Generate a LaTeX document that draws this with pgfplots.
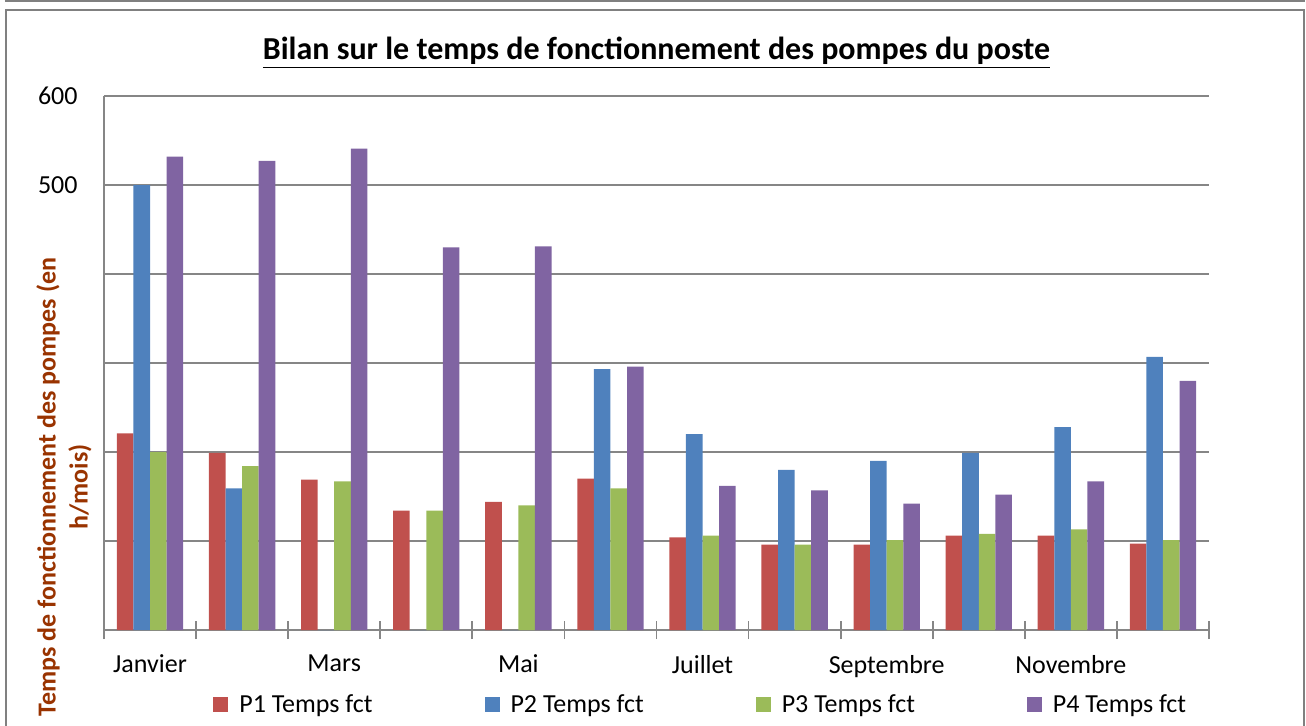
\documentclass[border=0pt]{standalone}
\usepackage{fontspec}
\setmainfont{Carlito}
\usepackage{pgfplots}
\usepackage{pgfplotstable}
\pgfplotsset{compat=1.18}
\definecolor{cP1}{HTML}{C0504D}
\definecolor{cP2}{HTML}{4F81BD}
\definecolor{cP3}{HTML}{9BBB59}
\definecolor{cP4}{HTML}{8064A2}
\definecolor{gridgray}{HTML}{868686}
\definecolor{framegray}{HTML}{808080}
\definecolor{ylabcol}{HTML}{993300}
\pgfplotstableread{
x P1 P2 P3 P4
0 221 500 200 532
1 199 159 184 527
2 169 0 167 541
3 134 0 134 430
4 144 0 140 431
5 170 293 159 296
6 104 220 106 162
7 96 180 96 157
8 96 190 101 142
9 106 199 108 152
10 106 228 113 167
11 97 307 101 280
}\data
\begin{document}
\begin{tikzpicture}
\begin{axis}[
  width=552.5pt, height=267pt, scale only axis,
  xmin=-0.5, xmax=11.5, ymin=0, ymax=600,
  ybar=0pt, bar width=0.18,
  axis x line*=bottom, axis y line*=left,
  axis line style={draw=gridgray, line width=0.9pt},
  ytick={0,100,...,600}, yticklabels={,,,,,500,600},
  ymajorgrids, grid style={draw=gridgray, line width=0.9pt},
  major tick length=0pt,
  xtick={0,2,...,10}, xticklabels={Janvier,Mars,Mai,Juillet,Septembre,Novembre},
  minor xtick={-0.5,0.5,...,11.5}, minor tick length=9pt, tick align=center,
  tick style={draw=gridgray, line width=0.9pt},
  tick label style={font=\fontsize{13}{15.6}\selectfont, text=black},
  /pgf/number format/assume math mode=true,
  yticklabel style={anchor=east, inner sep=0pt, xshift=-13pt},
  xticklabel style={yshift=-9pt},
  ylabel={Temps de fonctionnement des pompes (en\\h/mois)},
  ylabel style={at={(rel axis cs:-0.0362,0.268)}, anchor=center, align=center,
    font=\bfseries\fontsize{13}{16}\selectfont, text=ylabcol},
  legend columns=4,
  legend style={draw=none, fill=none, at={(0.0986,-0.1404)}, anchor=west,
    inner xsep=0pt, font=\fontsize{13}{15.6}\selectfont,
    /tikz/every odd column/.append style={column sep=3.5pt},
    /tikz/every even column/.append style={column sep=54pt}},
  legend image code/.code={\fill[#1] (0pt,-3.75pt) rectangle (7.5pt,3.75pt);},
]
\addplot[fill=cP1, draw=none] table[x=x, y=P1] {\data};
\addplot[fill=cP2, draw=none] table[x=x, y=P2] {\data};
\addplot[fill=cP3, draw=none] table[x=x, y=P3] {\data};
\addplot[fill=cP4, draw=none] table[x=x, y=P4] {\data};
\legend{P1 Temps fct, P2 Temps fct, P3 Temps fct, P4 Temps fct}
\coordinate (O) at (rel axis cs:0,0);
\end{axis}
\draw[draw=framegray, line width=1pt] ([shift={(-49.5pt,314.25pt)}]O) -- ([shift={(600.5pt,314.25pt)}]O);
\draw[draw=framegray, line width=1.2pt] ([shift={(-49pt,-60pt)}]O) -- ([shift={(-49pt,310pt)}]O) -- ([shift={(600pt,310pt)}]O) -- ([shift={(600pt,-60pt)}]O);
\node[font=\bfseries\fontsize{16}{19}\selectfont] at ([shift={(276.25pt,288.5pt)}]O) {\underline{Bilan sur le temps de fonctionnement des pompes du poste}};
\pgfresetboundingbox
\useasboundingbox ([shift={(-52pt,-47.5pt)}]O) rectangle ([shift={(601pt,315pt)}]O);
\end{tikzpicture}
\end{document}
